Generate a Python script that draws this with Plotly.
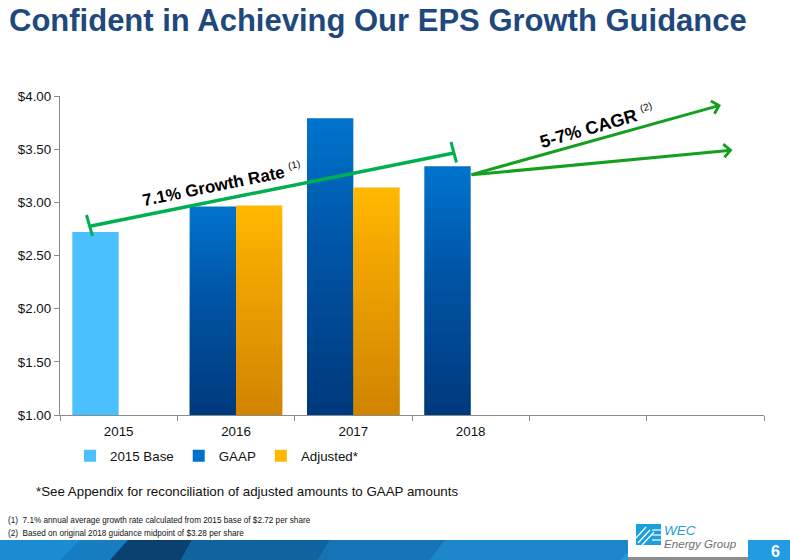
import plotly.graph_objects as go

# ---------------- data ----------------
years = ["2015", "2016", "2017", "2018"]
base_years = ["2015"]
base_eps = [2.72]
gaap_years = ["2016", "2017", "2018"]
gaap_eps = [2.96, 3.79, 3.34]
adj_years = ["2016", "2017"]
adj_eps = [2.97, 3.14]
y_ticks = [1.0, 1.5, 2.0, 2.5, 3.0, 3.5, 4.0]
n_slots = 6  # four years plus two empty slots for the outlook arrows

# ---------------- geometry helpers ----------------
W, H = 790, 560
ML, MR, MT, MB = 60, 26, 96, 145
PW, PH = W - ML - MR, H - MT - MB
X0, X1 = -0.5, n_slots - 0.5
Y0, Y1 = y_ticks[0], y_ticks[-1]

def dx(px):
    return X0 + (X1 - X0) * (px - ML) / PW

def dy(py):
    return Y1 - (Y1 - Y0) * (py - MT) / PH

def ppx(px):
    return (px - ML) / PW

def ppy(py):
    return (H - MB - py) / PH

FONT = "Liberation Sans, Arial, sans-serif"

pos = {y: i for i, y in enumerate(years)}
BAR_W = 0.395

fig = go.Figure()
fig.add_bar(x=[pos[y] for y in base_years], y=base_eps, name="2015 Base",
            width=BAR_W, offset=-BAR_W,
            marker=dict(color="#4BC0FF", line_width=0))
fig.add_bar(x=[pos[y] for y in gaap_years], y=gaap_eps, name="GAAP",
            width=BAR_W, offset=-BAR_W,
            marker=dict(color="rgb(0,114,204)", line_width=0))
fig.add_bar(x=[pos[y] for y in adj_years], y=adj_eps, name="Adjusted*",
            width=BAR_W, offset=0,
            marker=dict(color="rgb(255,184,0)", line_width=0))

# vertical gradient: stacked translucent overlays, darker toward the base
N = 24
for yrs, vals, off, total, col in [
    (gaap_years, gaap_eps, -BAR_W, 0.44, "0,10,40"),
    (adj_years, adj_eps, 0, 0.24, "90,30,0"),
]:
    a = 1 - (1 - total) ** (1 / (N - 1))
    for k in range(1, N):
        fig.add_bar(x=[pos[y] for y in yrs], y=[(v - Y0) * k / N for v in vals],
                    base=Y0, width=BAR_W, offset=off,
                    marker=dict(color=f"rgba({col},{a:.4f})", line_width=0),
                    showlegend=False, hoverinfo="skip")

GREEN1 = "#00B050"
GREEN2 = "#12A01E"

shapes = []
# 7.1% growth line with end caps
shapes.append(dict(type="line", xref="x", yref="y", x0=dx(91), y0=dy(226), x1=dx(454), y1=dy(153),
                   line=dict(color=GREEN1, width=3.5)))
shapes.append(dict(type="line", xref="x", yref="y", x0=dx(86.5), y0=dy(215), x1=dx(92.5), y1=dy(236),
                   line=dict(color=GREEN1, width=3)))
shapes.append(dict(type="line", xref="x", yref="y", x0=dx(451), y0=dy(142), x1=dx(456.5), y1=dy(162.5),
                   line=dict(color=GREEN1, width=3)))

# bottom band
def poly(pts):
    return "M" + " L".join(f"{ppx(x):.5f},{ppy(y):.5f}" for x, y in pts) + " Z"

band = [
    ([(0, 540), (790, 540), (790, 560), (0, 560)], "#1B8CD2"),
    ([(60, 560), (80, 540), (140, 540), (125, 560)], "#157DC0"),
    ([(110, 560), (128, 540), (192, 540), (181, 560)], "#0B416E"),
    ([(181, 560), (192, 540), (330, 540), (318, 560)], "#0F64A0"),
    ([(318, 560), (330, 540), (445, 540), (430, 560)], "#1674B6"),
    ([(430, 560), (445, 540), (640, 540), (620, 560)], "#1C86CB"),
    ([(620, 560), (640, 540), (790, 540), (790, 560)], "#229BE0"),
]
for pts, c in band:
    shapes.append(dict(type="path", xref="paper", yref="paper", path=poly(pts),
                       fillcolor=c, line=dict(width=0), layer="above"))

# logo box
shapes.append(dict(type="rect", xref="paper", yref="paper", x0=ppx(628), x1=ppx(748), y0=ppy(557), y1=ppy(517),
                   fillcolor="white", line=dict(width=0), layer="above"))
shapes.append(dict(type="rect", xref="paper", yref="paper", x0=ppx(628), x1=ppx(748), y0=ppy(560), y1=ppy(557),
                   fillcolor="#8C8C8C", line=dict(width=0), layer="above"))
shapes.append(dict(type="rect", xref="paper", yref="paper", x0=ppx(636), x1=ppx(661), y0=ppy(545), y1=ppy(524),
                   fillcolor="#1BA0DB", line=dict(width=0), layer="above"))
for (xa, ya, xb, yb) in [(636, 538, 646, 527), (638, 543, 650, 530), (642, 545, 654, 532)]:
    shapes.append(dict(type="line", xref="paper", yref="paper", x0=ppx(xa), y0=ppy(ya), x1=ppx(xb), y1=ppy(yb),
                       line=dict(color="white", width=1.2), layer="above"))
for yy in (530, 535, 540):
    shapes.append(dict(type="line", xref="paper", yref="paper", x0=ppx(652), y0=ppy(yy), x1=ppx(661), y1=ppy(yy),
                       line=dict(color="white", width=1.2), layer="above"))

annotations = []
# outlook arrows (5-7% CAGR)
for ex, ey in [(721, 105), (732.5, 150)]:
    annotations.append(dict(x=dx(ex), y=dy(ey), ax=dx(470), ay=dy(175), xref="x", yref="y",
                            axref="x", ayref="y", text="", showarrow=True, arrowhead=4,
                            arrowsize=0.85, arrowwidth=3, arrowcolor=GREEN2))
annotations.append(dict(x=dx(222), y=dy(184), xref="x", yref="y", showarrow=False, textangle=-11.5,
                        text="<b>7.1% Growth Rate</b> <sup><span style='font-size:10px'>(1)</span></sup>",
                        font=dict(family=FONT, size=17, color="black")))
annotations.append(dict(x=dx(596), y=dy(126), xref="x", yref="y", showarrow=False, textangle=-16,
                        text="<b>5-7% CAGR</b> <sup><span style='font-size:10px'>(2)</span></sup>",
                        font=dict(family=FONT, size=18, color="black")))
annotations.append(dict(x=ppx(34), y=ppy(491), xref="paper", yref="paper", xanchor="left", yanchor="middle",
                        showarrow=False, text="*See Appendix for reconciliation of adjusted amounts to GAAP amounts",
                        font=dict(family=FONT, size=13.33, color="#111")))
annotations.append(dict(x=ppx(6), y=ppy(520.5), xref="paper", yref="paper", xanchor="left", yanchor="middle",
                        showarrow=False,
                        text="(1)  7.1% annual average growth rate calculated from 2015 base of $2.72 per share",
                        font=dict(family=FONT, size=8.2, color="#111")))
annotations.append(dict(x=ppx(6), y=ppy(533.5), xref="paper", yref="paper", xanchor="left", yanchor="middle",
                        showarrow=False,
                        text="(2)  Based on original 2018 guidance midpoint of $3.28 per share",
                        font=dict(family=FONT, size=8.2, color="#111")))
annotations.append(dict(x=ppx(662), y=ppy(530), xref="paper", yref="paper", xanchor="left", yanchor="middle",
                        showarrow=False, text="<i>WEC</i>",
                        font=dict(family=FONT, size=13.5, color="#1BA0DB")))
annotations.append(dict(x=ppx(662), y=ppy(543), xref="paper", yref="paper", xanchor="left", yanchor="middle",
                        showarrow=False, text="<i>Energy Group</i>",
                        font=dict(family=FONT, size=11.6, color="#6E6E6E")))
annotations.append(dict(x=ppx(775), y=ppy(551), xref="paper", yref="paper", xanchor="center", yanchor="middle",
                        showarrow=False, text="<b>6</b>",
                        font=dict(family=FONT, size=16, color="white")))

fig.update_layout(
    width=W, height=H,
    margin=dict(l=ML, r=MR, t=MT, b=MB, pad=0),
    paper_bgcolor="white", plot_bgcolor="white",
    barmode="overlay",
    font=dict(family=FONT, size=13.33, color="#111"),
    title=dict(text="<b>Confident in Achieving Our EPS Growth Guidance</b>",
               xref="container", yref="container", x=9 / W, xanchor="left",
               y=1 - 20.5 / H, yanchor="middle",
               font=dict(family=FONT, size=31, color="#1F497D")),
    xaxis=dict(range=[X0, X1], tickmode="array", tickvals=[pos[y] for y in years], ticktext=years,
               ticks="", showline=True, linecolor="#8A8A8A", linewidth=1.3, showgrid=False, zeroline=False,
               tickfont=dict(size=13.33, color="#111"), ticklabelstandoff=4,
               minor=dict(tickmode="linear", tick0=X0, dtick=1, ticks="outside", ticklen=5,
                          tickcolor="#8A8A8A", tickwidth=1.3, showgrid=False),
               fixedrange=True),
    yaxis=dict(range=[Y0, Y1], tickmode="array", tickvals=y_ticks, tickformat="$.2f",
               ticks="outside", ticklen=5, tickcolor="#8A8A8A", tickwidth=1.3,
               showline=True, linecolor="#8A8A8A", linewidth=1.3, showgrid=False, zeroline=False,
               tickfont=dict(size=13.33, color="#111"), fixedrange=True),
    legend=dict(orientation="h", x=ppx(70), xanchor="left", y=ppy(456), yanchor="middle",
                font=dict(size=13.33, color="#111"), bgcolor="rgba(0,0,0,0)", traceorder="normal"),
    shapes=shapes,
    annotations=annotations,
    showlegend=True,
)

fig.write_html("out.html")
